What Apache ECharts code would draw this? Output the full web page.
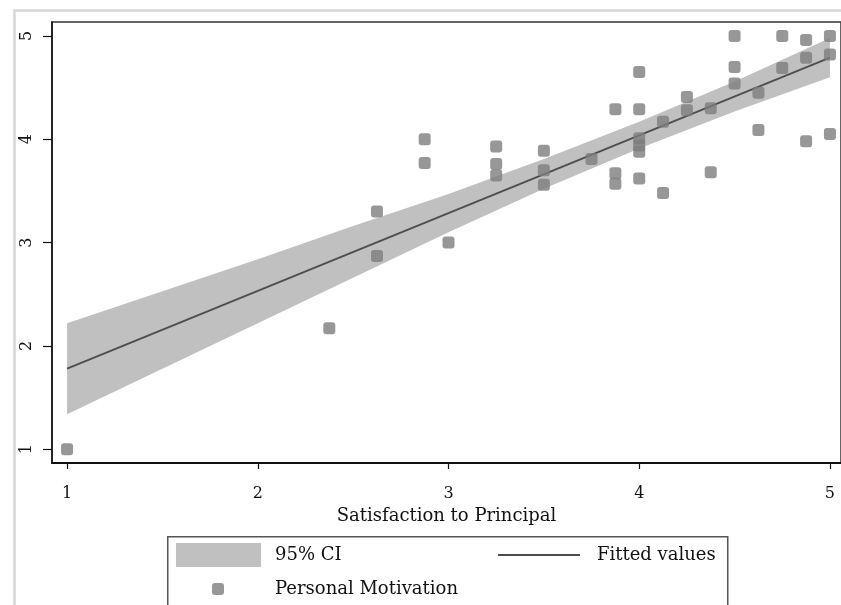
<!DOCTYPE html>
<html>
<head>
<meta charset="utf-8">
<script src="https://cdn.jsdelivr.net/npm/echarts@6/dist/echarts.min.js"></script>
<style>
html,body{margin:0;padding:0;background:#fff;}
#main{width:841px;height:605px;}
</style>
</head>
<body>
<div id="main"></div>
<script>
// Scatter data: Satisfaction to Principal (x) vs Personal Motivation (y)
var pointsX = [1, 2.375, 2.625, 2.625, 2.875, 2.875, 3, 3.25, 3.25, 3.25,
  3.5, 3.5, 3.5, 3.75, 3.875, 3.875, 3.875,
  4, 4, 4, 4, 4, 4,
  4.125, 4.125, 4.25, 4.25, 4.375, 4.375,
  4.5, 4.5, 4.5, 4.625, 4.625, 4.75, 4.75,
  4.875, 4.875, 4.875, 5, 5, 5];
var pointsY = [1, 2.17, 3.30, 2.87, 4.00, 3.77, 3.00, 3.93, 3.76, 3.65,
  3.89, 3.70, 3.56, 3.81, 4.29, 3.67, 3.57,
  4.65, 4.29, 4.01, 3.94, 3.88, 3.62,
  4.17, 3.48, 4.41, 4.28, 4.30, 3.68,
  5.00, 4.70, 4.54, 4.45, 4.09, 5.00, 4.69,
  4.96, 4.79, 3.98, 5.00, 4.82, 4.05];

// Fitted values (straight line endpoints)
var fitX = [1, 5];
var fitY = [1.78, 4.79];

// 95% CI band, read at several x positions
var ciX  = [1,    1.5,  2,    2.5,  3,    3.5,  4,    4.5,  5];
var ciLo = [1.34, 1.78, 2.22, 2.66, 3.10, 3.52, 3.91, 4.27, 4.60];
var ciHi = [2.22, 2.53, 2.84, 3.16, 3.47, 3.81, 4.17, 4.56, 4.98];

var tickVals = [1, 2, 3, 4, 5];
var xTitle = 'Satisfaction to Principal';
var names = {ci: '95% CI', fit: 'Fitted values', pts: 'Personal Motivation'};

var FONT = 'DejaVu Serif';
var scatterData = pointsX.map(function (x, i) { return [x, pointsY[i]]; });
var fitData = fitX.map(function (x, i) { return [x, fitY[i]]; });
var ciData = ciX.map(function (x, i) { return [x, ciLo[i], ciHi[i]]; });

var chart = echarts.init(document.getElementById('main'), null, {renderer: 'canvas'});
chart.setOption({
  backgroundColor: '#ffffff',
  animation: false,
  grid: {left: 52, top: 22, right: 0, bottom: 142, show: true, borderColor: '#333', borderWidth: 1.5, containLabel: false},
  xAxis: {
    type: 'value', min: 0.921, max: 5.058,
    name: xTitle, nameLocation: 'middle', nameGap: 37,
    nameTextStyle: {fontFamily: FONT, fontSize: 18, color: '#111'},
    axisLine: {show: true, onZero: false, lineStyle: {color: '#111', width: 2}},
    axisTick: {show: true, length: 6, customValues: tickVals, lineStyle: {color: '#111', width: 1.2}},
    axisLabel: {customValues: tickVals, margin: 23, fontFamily: FONT, fontSize: 16, color: '#111'},
    splitLine: {show: false}
  },
  yAxis: {
    type: 'value', min: 0.867, max: 5.135,
    axisLine: {show: true, onZero: false, lineStyle: {color: '#111', width: 1.5}},
    axisTick: {show: true, length: 9, customValues: tickVals, lineStyle: {color: '#111', width: 1.2}},
    axisLabel: {customValues: tickVals, rotate: 90, margin: 17, fontFamily: FONT, fontSize: 16, color: '#111'},
    splitLine: {show: false}
  },
  legend: [
    {left: 176, top: 543, padding: 0, itemWidth: 85, itemHeight: 24,
     data: [{name: names.ci, icon: 'rect'}], selectedMode: false,
     textStyle: {fontFamily: FONT, fontSize: 18, color: '#111', padding: [0, 0, 0, 9]}},
    {left: 498, top: 546, padding: 0, itemWidth: 82, itemHeight: 2,
     data: [{name: names.fit, icon: 'rect', itemStyle: {color: '#4d4d4d'}}], selectedMode: false,
     textStyle: {fontFamily: FONT, fontSize: 18, color: '#111', padding: [0, 0, 0, 12]}},
    {left: 212, top: 580, padding: 0, itemWidth: 12, itemHeight: 12,
     data: [{name: names.pts, icon: 'roundRect'}], selectedMode: false,
     textStyle: {fontFamily: FONT, fontSize: 18, color: '#111', padding: [0, 0, 0, 46]}}
  ],
  graphic: [
    {type: 'rect', left: 12, top: 8, z: -10, silent: true,
     shape: {x: 0, y: 0, width: 900, height: 700},
     style: {fill: 'none', stroke: '#d6d6d6', lineWidth: 2.5}},
    {type: 'rect', left: 167, top: 536, z: -5, silent: true,
     shape: {x: 0, y: 0, width: 560, height: 120},
     style: {fill: '#fff', stroke: '#555', lineWidth: 1.5}}
  ],
  series: [
    {
      name: names.ci, type: 'custom', z: 1,
      itemStyle: {color: '#c0c0c0'},
      data: ciData,
      renderItem: function (params, api) {
        if (params.dataIndex !== 0) return null;
        var pts = [];
        for (var i = 0; i < ciX.length; i++) pts.push(api.coord([ciX[i], ciHi[i]]));
        for (var j = ciX.length - 1; j >= 0; j--) pts.push(api.coord([ciX[j], ciLo[j]]));
        return {type: 'polygon', shape: {points: pts}, style: {fill: '#c0c0c0'}};
      },
      encode: {x: 0, y: [1, 2]}
    },
    {
      name: names.fit, type: 'line', z: 2, data: fitData,
      symbol: 'none', showSymbol: false,
      lineStyle: {color: '#4d4d4d', width: 1.8},
      itemStyle: {color: '#4d4d4d'}
    },
    {
      name: names.pts, type: 'scatter', z: 3, data: scatterData,
      symbol: 'roundRect', symbolSize: 12,
      itemStyle: {color: '#7d7d7d'}
    }
  ]
});
</script>
</body>
</html>
